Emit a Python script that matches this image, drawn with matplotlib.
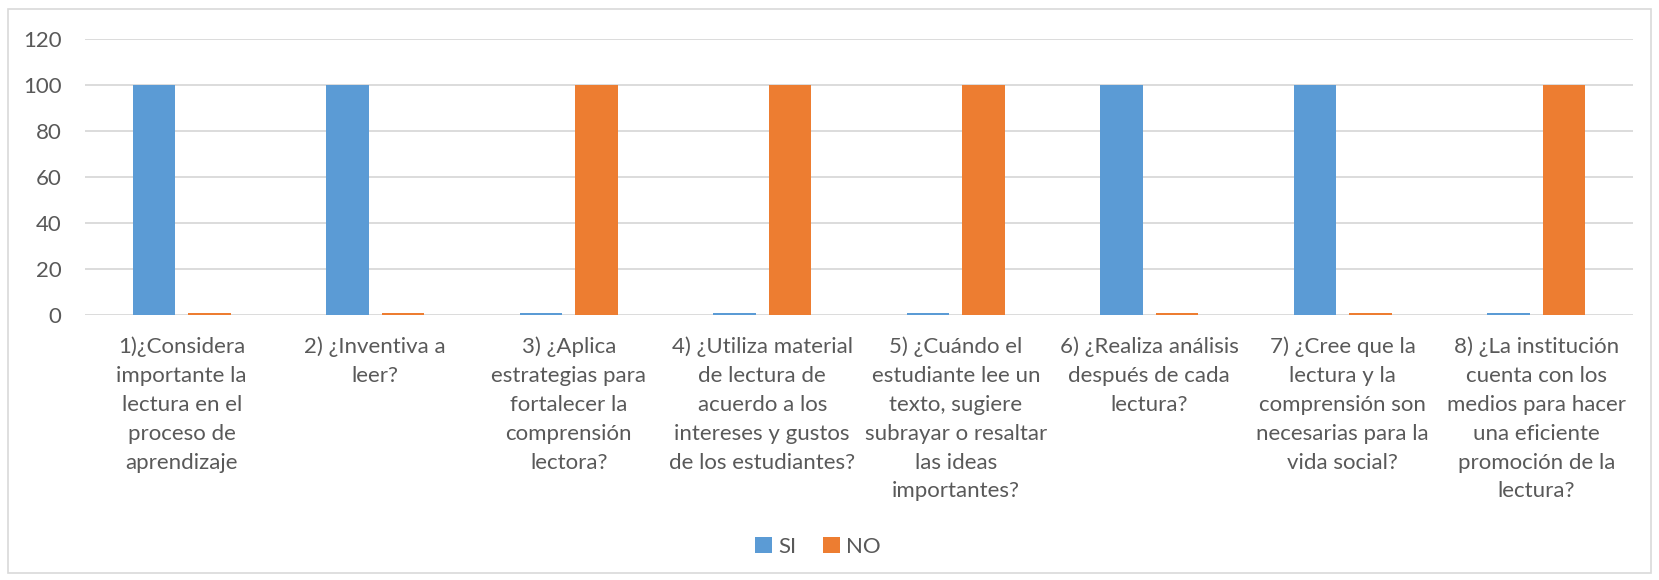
import matplotlib
matplotlib.use("Agg")
import matplotlib.pyplot as plt
import numpy as np
from matplotlib.patches import Rectangle, Patch

# data
preguntas = [
    "1)¿Considera\nimportante la\nlectura en el\nproceso de\naprendizaje",
    "2) ¿Inventiva a\nleer?",
    "3) ¿Aplica\nestrategias para\nfortalecer la\ncomprensión\nlectora?",
    "4) ¿Utiliza material\nde lectura de\nacuerdo a los\nintereses y gustos\nde los estudiantes?",
    "5) ¿Cuándo el\nestudiante lee un\ntexto, sugiere\nsubrayar o resaltar\nlas ideas\nimportantes?",
    "6) ¿Realiza análisis\ndespués de cada\nlectura?",
    "7) ¿Cree que la\nlectura y la\ncomprensión son\nnecesarias para la\nvida social?",
    "8) ¿La institución\ncuenta con los\nmedios para hacer\nuna eficiente\npromoción de la\nlectura?",
]
si = [100, 100, 1, 1, 1, 100, 100, 1]
no = [1, 1, 100, 100, 100, 1, 1, 100]
y_ticks = [0, 20, 40, 60, 80, 100, 120]

C_SI = "#5b9bd5"
C_NO = "#ed7d31"
GRID = "#d9d9d9"
TXT = "#595959"

plt.rcParams["font.family"] = ["Lato", "DejaVu Sans"]

W, H = 1659, 580
fig = plt.figure(figsize=(W / 100, H / 100), dpi=100, facecolor="white")

# outer chart border
fig.patches.append(Rectangle((8 / W, 1 - 573 / H), (1651 - 8) / W, (573 - 9) / H,
                             transform=fig.transFigure, fill=False,
                             edgecolor="#d9d9d9", linewidth=1.2))

ax = fig.add_axes([85 / W, 1 - 315 / H, (1633 - 85) / W, (315 - 39) / H])

x = np.arange(len(preguntas))
bw = 0.22
off = 0.143
ax.bar(x - off, si, width=bw, color=C_SI, zorder=3, label="SI")
ax.bar(x + off, no, width=bw, color=C_NO, zorder=3, label="NO")

ax.set_xlim(-0.5, len(preguntas) - 0.5)
ax.set_ylim(0, 120)
ax.set_yticks(y_ticks)
ax.yaxis.grid(True, color=GRID, linewidth=1.3, zorder=0)
ax.set_axisbelow(True)
for s in ax.spines.values():
    s.set_visible(False)
ax.tick_params(axis="y", length=0, pad=17, labelsize=16, labelcolor=TXT)
ax.set_xticks([])

for i, txt in enumerate(preguntas):
    ax.text(i, -9.5, txt, ha="center", va="top", fontsize=16, color=TXT,
            linespacing=1.55, multialignment="center")

handles = [Patch(facecolor=C_SI, edgecolor="none", label="SI"),
           Patch(facecolor=C_NO, edgecolor="none", label="NO")]
fig.legend(handles=handles, loc="center", bbox_to_anchor=(818 / W, 1 - 547 / H),
           ncol=2, frameon=False, fontsize=16, labelcolor=TXT,
           handlelength=0.75, handleheight=0.75, handletextpad=0.3, columnspacing=1.2)

fig.savefig("out.png", dpi=100, facecolor="white")
